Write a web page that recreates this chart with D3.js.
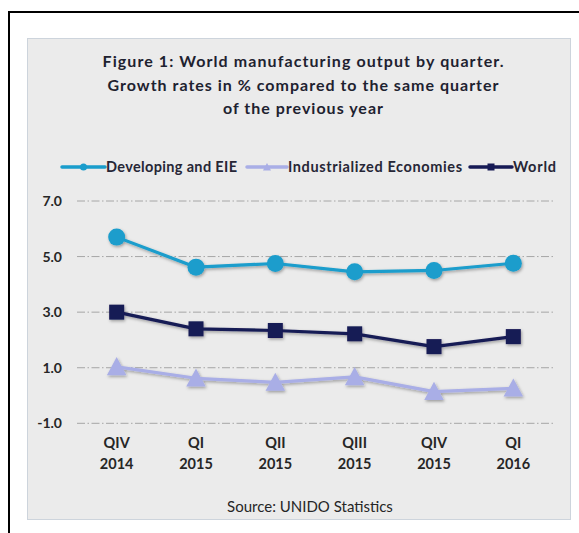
<!DOCTYPE html>
<html>
<head>
<meta charset="utf-8">
<script src="https://cdn.jsdelivr.net/npm/d3@7"></script>
<style>
  body { margin: 0; background: #fff; }
  svg { display: block; }
  text { font-family: Lato, "Open Sans", sans-serif; }
</style>
</head>
<body>
<script>
const width = 579;
const height = 533;

// data
const quarters = ["QIV", "QI", "QII", "QIII", "QIV", "QI"];
const years = ["2014", "2015", "2015", "2015", "2015", "2016"];
const developing = [5.7, 4.62, 4.75, 4.45, 4.5, 4.76];
const industrialized = [1.03, 0.62, 0.47, 0.67, 0.14, 0.26];
const world = [3.0, 2.4, 2.34, 2.22, 1.76, 2.12];
const yTicks = [-1, 1, 3, 5, 7];
const titleLines = [
  "Figure 1:  World manufacturing output by quarter.",
  "Growth rates in % compared to the same quarter",
  "of the previous year"
];
const titleWidths = [401, 391, 160];

const series = [
  { name: "Developing and EIE", values: developing, color: "#1a9dcc", marker: "circle" },
  { name: "Industrialized Economies", values: industrialized, color: "#a9aee6", marker: "triangle" },
  { name: "World", values: world, color: "#161a55", marker: "square" }
];

const svg = d3.select("body")
  .append("svg")
  .attr("width", width)
  .attr("height", height);

const defs = svg.append("defs");
const f = defs.append("filter").attr("id", "shadow")
  .attr("x", "-20%").attr("y", "-20%").attr("width", "140%").attr("height", "140%");
f.append("feDropShadow")
  .attr("dx", 1).attr("dy", 1.5)
  .attr("stdDeviation", 1.5)
  .attr("flood-color", "#000")
  .attr("flood-opacity", 0.35);

// outer frame (only top + left visible)
svg.append("rect")
  .attr("x", 9).attr("y", 12)
  .attr("width", 600).attr("height", 600)
  .attr("fill", "#fff")
  .attr("stroke", "#000")
  .attr("stroke-width", 2);

// gray chart panel
svg.append("rect")
  .attr("x", 27.5).attr("y", 38.5)
  .attr("width", 543).attr("height", 481)
  .attr("fill", "#ebebeb")
  .attr("stroke", "#cdd4dc")
  .attr("stroke-width", 1);

// title
svg.append("g").selectAll("text")
  .data(titleLines)
  .join("text")
  .attr("x", 303)
  .attr("y", (d, i) => 67 + i * 23.5)
  .attr("text-anchor", "middle")
  .attr("font-size", 16)
  .attr("font-weight", "bold")
  .attr("fill", "#1e2230")
  .attr("textLength", (d, i) => titleWidths[i])
  .attr("lengthAdjust", "spacing")
  .text(d => d);

// scales
const x = d3.scalePoint()
  .domain(d3.range(quarters.length))
  .range([77, 553])
  .padding(0.5);

const y = d3.scaleLinear()
  .domain([-1, 7])
  .range([423.3, 201]);

// gridlines
svg.append("g")
  .selectAll("line")
  .data(yTicks)
  .join("line")
  .attr("x1", 77).attr("x2", 553)
  .attr("y1", d => y(d)).attr("y2", d => y(d))
  .attr("stroke", "#a6a6a6")
  .attr("stroke-width", 1)
  .attr("stroke-dasharray", "8,2.5,1.5,2.5");

// y axis labels
svg.append("g")
  .selectAll("text")
  .data(yTicks)
  .join("text")
  .attr("x", 62)
  .attr("y", d => y(d) + 5)
  .attr("text-anchor", "end")
  .attr("font-size", 14)
  .attr("font-weight", "bold")
  .attr("fill", "#262626")
  .text(d => d.toFixed(1));

// x axis labels
const xl = svg.append("g")
  .selectAll("g")
  .data(quarters)
  .join("g")
  .attr("transform", (d, i) => `translate(${x(i)},0)`);
xl.append("text")
  .attr("y", 448)
  .attr("text-anchor", "middle")
  .attr("font-size", 14.5)
  .attr("font-weight", "bold")
  .attr("fill", "#262626")
  .text(d => d);
xl.append("text")
  .attr("y", 469)
  .attr("text-anchor", "middle")
  .attr("font-size", 14.5)
  .attr("font-weight", "bold")
  .attr("fill", "#262626")
  .text((d, i) => years[i]);

// marker shapes
function drawMarker(sel, type, size, color) {
  if (type === "circle") {
    sel.append("circle").attr("r", size).attr("fill", color);
  } else if (type === "square") {
    sel.append("rect")
      .attr("x", -size).attr("y", -size)
      .attr("width", size * 2).attr("height", size * 2)
      .attr("fill", color);
  } else {
    const s = size * 1.15;
    sel.append("path")
      .attr("d", `M0,${-s} L${s},${s * 0.85} L${-s},${s * 0.85} Z`)
      .attr("fill", color);
  }
}

const line = d3.line()
  .x((d, i) => x(i))
  .y(d => y(d));

// series lines + markers
series.forEach(s => {
  const g = svg.append("g").attr("filter", "url(#shadow)");
  g.append("path")
    .datum(s.values)
    .attr("d", line)
    .attr("fill", "none")
    .attr("stroke", s.color)
    .attr("stroke-width", 3.2)
    .attr("stroke-linejoin", "round");
  g.selectAll("g.pt")
    .data(s.values)
    .join("g")
    .attr("class", "pt")
    .attr("transform", (d, i) => `translate(${x(i)},${y(d)})`)
    .each(function () { drawMarker(d3.select(this), s.marker, s.marker === "square" ? 7.5 : 8.5, s.color); });
});

// legend
const legendItems = [
  { x1: 62, x2: 105, tx: 106, w: 131 },
  { x1: 247, x2: 287, tx: 288, w: 174 },
  { x1: 470, x2: 512, tx: 513, w: 43 }
];
const leg = svg.append("g");
series.forEach((s, i) => {
  const li = legendItems[i];
  const ly = 167;
  leg.append("line")
    .attr("x1", li.x1).attr("x2", li.x2)
    .attr("y1", ly).attr("y2", ly)
    .attr("stroke", s.color)
    .attr("stroke-width", 3.5)
    .attr("stroke-linecap", "round");
  const m = leg.append("g").attr("transform", `translate(${(li.x1 + li.x2) / 2},${ly})`);
  drawMarker(m, s.marker, 3.5, s.color);
  leg.append("text")
    .attr("x", li.tx)
    .attr("y", ly + 5)
    .attr("font-size", 14.5)
    .attr("font-weight", "bold")
    .attr("fill", "#262636")
    .attr("textLength", li.w)
    .attr("lengthAdjust", "spacing")
    .text(s.name);
});

// source
svg.append("text")
  .attr("x", 310)
  .attr("y", 512)
  .attr("text-anchor", "middle")
  .attr("font-size", 15)
  .attr("fill", "#262626")
  .text("Source: UNIDO Statistics");
</script>
</body>
</html>
